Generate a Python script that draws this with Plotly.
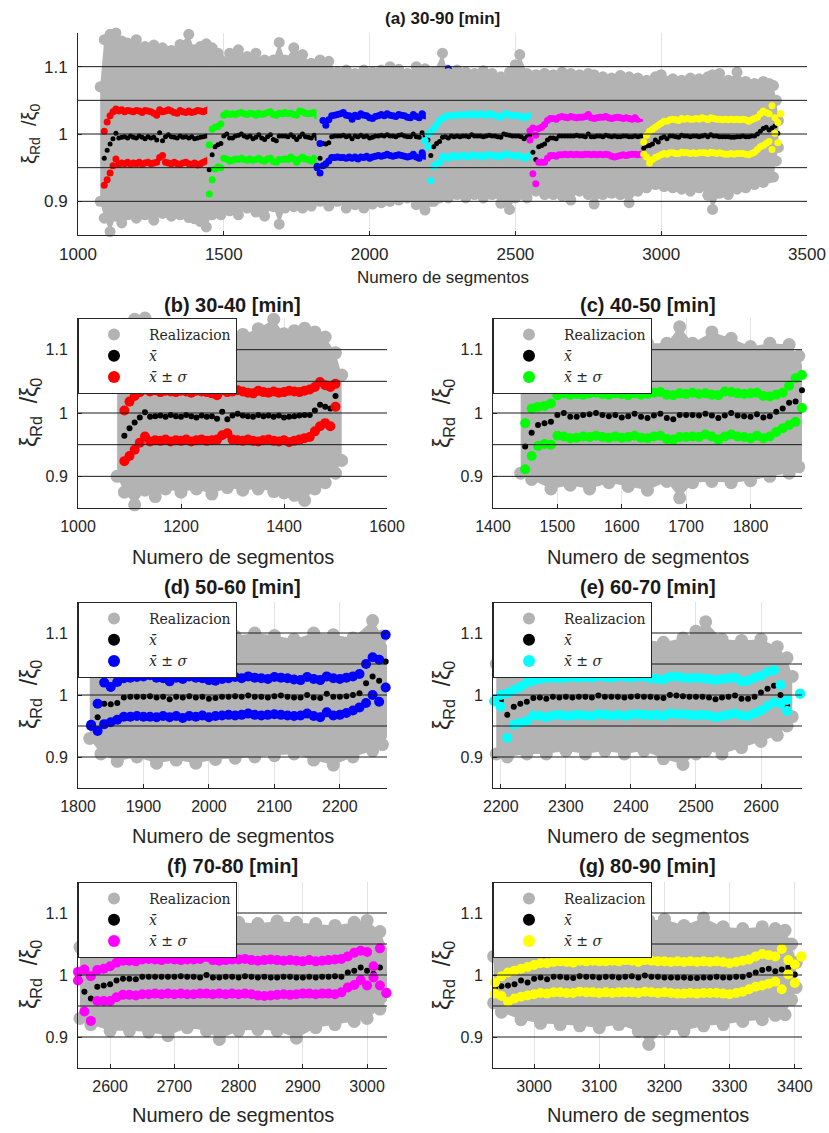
import plotly.graph_objects as go

# ---------------- data ----------------
# Period (b) 30-40 min
x_b = list(range(1090, 1501, 10))
mean_b = [0.964, 0.976, 0.985, 0.993, 1.001, 0.994, 0.995, 0.996, 0.994, 0.997, 0.995, 0.994, 0.997, 0.995,
          0.993, 0.996, 0.994, 0.995, 0.991, 1.002, 0.990, 0.996, 0.999, 0.996, 0.995, 0.994, 0.997, 0.995,
          0.996, 0.994, 0.996, 0.993, 0.994, 0.995, 0.996, 0.997, 0.997, 1.004, 1.013, 1.010, 1.007, 1.027]
up_b = [1.004, 1.018, 1.027, 1.033, 1.037, 1.034, 1.036, 1.033, 1.035, 1.034, 1.033, 1.035, 1.034, 1.032,
        1.035, 1.034, 1.033, 1.031, 1.028, 1.036, 1.033, 1.034, 1.036, 1.034, 1.032, 1.031, 1.035, 1.033,
        1.032, 1.034, 1.032, 1.033, 1.035, 1.034, 1.033, 1.035, 1.037, 1.041, 1.049, 1.044, 1.041, 1.046]
lo_b = [0.924, 0.932, 0.942, 0.953, 0.963, 0.955, 0.957, 0.956, 0.958, 0.955, 0.957, 0.956, 0.958, 0.955,
        0.957, 0.958, 0.956, 0.957, 0.958, 0.965, 0.968, 0.958, 0.957, 0.956, 0.958, 0.956, 0.955, 0.957,
        0.958, 0.956, 0.955, 0.957, 0.954, 0.956, 0.958, 0.960, 0.962, 0.971, 0.979, 0.984, 0.979, 1.010]
cx_b = [1076, 1090, 1110, 1130, 1150, 1170, 1200, 1230, 1260, 1290, 1320, 1350, 1380, 1400, 1420, 1440, 1460, 1480, 1500, 1512]
chi_b = [1.070, 1.140, 1.148, 1.150, 1.138, 1.135, 1.140, 1.130, 1.132, 1.128, 1.124, 1.133, 1.148, 1.125,
         1.130, 1.134, 1.128, 1.120, 1.095, 1.060]
clo_b = [0.900, 0.875, 0.855, 0.878, 0.868, 0.880, 0.875, 0.880, 0.872, 0.882, 0.878, 0.880, 0.876, 0.874,
         0.870, 0.862, 0.880, 0.890, 0.905, 0.925]

# Period (c) 40-50 min
x_c = list(range(1450, 1881, 10))
mean_c = [0.947, 0.969, 0.981, 0.984, 0.986, 0.997, 1.000, 0.994, 0.994, 0.997, 0.998, 1.000, 0.997, 0.995,
          0.997, 0.993, 0.995, 0.999, 0.994, 0.992, 0.996, 0.999, 0.992, 0.990, 0.997, 0.997, 0.997, 0.996,
          0.999, 0.996, 0.992, 0.996, 1.000, 0.996, 0.995, 0.994, 0.998, 0.993, 0.995, 1.002, 1.007, 1.016,
          1.018, 1.036]
up_c = [0.984, 1.007, 1.010, 1.011, 1.015, 1.028, 1.031, 1.029, 1.030, 1.029, 1.031, 1.032, 1.030, 1.029,
        1.031, 1.030, 1.028, 1.031, 1.029, 1.030, 1.032, 1.033, 1.029, 1.028, 1.031, 1.030, 1.032, 1.030,
        1.031, 1.029, 1.028, 1.034, 1.033, 1.031, 1.030, 1.031, 1.032, 1.027, 1.026, 1.029, 1.032, 1.043,
        1.055, 1.060]
lo_c = [0.911, 0.932, 0.948, 0.951, 0.950, 0.964, 0.963, 0.960, 0.961, 0.963, 0.962, 0.964, 0.962, 0.961,
        0.963, 0.961, 0.962, 0.964, 0.961, 0.960, 0.963, 0.964, 0.959, 0.958, 0.962, 0.962, 0.963, 0.962,
        0.966, 0.963, 0.958, 0.963, 0.966, 0.963, 0.962, 0.960, 0.964, 0.960, 0.963, 0.970, 0.976, 0.981,
        0.986, 1.008]
cx_c = [1443, 1460, 1490, 1520, 1550, 1580, 1610, 1640, 1670, 1690, 1710, 1740, 1770, 1800, 1830, 1860, 1875, 1886]
chi_c = [1.050, 1.090, 1.110, 1.120, 1.125, 1.115, 1.120, 1.110, 1.110, 1.136, 1.110, 1.128, 1.118, 1.105,
         1.110, 1.108, 1.090, 1.060]
clo_c = [0.905, 0.895, 0.880, 0.886, 0.880, 0.890, 0.884, 0.878, 0.892, 0.866, 0.890, 0.892, 0.890, 0.893,
         0.900, 0.905, 0.915, 0.935]

# Period (d) 50-60 min
x_d = list(range(1820, 2271, 10))
mean_d = [0.951, 0.964, 0.986, 0.985, 0.987, 0.996, 0.997, 0.997, 0.997, 0.998, 0.996, 0.997, 0.993, 0.997,
          0.996, 0.998, 0.996, 0.997, 0.994, 0.995, 0.997, 0.997, 0.998, 0.997, 0.999, 0.997, 0.997, 0.996,
          0.998, 0.999, 0.997, 0.996, 0.996, 1.000, 0.996, 0.995, 1.002, 0.997, 0.997, 0.998, 1.000, 1.003,
          1.019, 1.030, 1.023, 1.054]
up_d = [0.952, 0.986, 1.020, 1.013, 1.021, 1.027, 1.028, 1.029, 1.030, 1.032, 1.028, 1.027, 1.022, 1.028,
        1.026, 1.030, 1.028, 1.027, 1.024, 1.023, 1.026, 1.027, 1.029, 1.027, 1.030, 1.028, 1.027, 1.026,
        1.029, 1.028, 1.027, 1.025, 1.024, 1.029, 1.026, 1.024, 1.030, 1.027, 1.026, 1.028, 1.030, 1.034,
        1.050, 1.061, 1.057, 1.097]
lo_d = [0.950, 0.942, 0.953, 0.956, 0.960, 0.965, 0.965, 0.966, 0.965, 0.965, 0.964, 0.966, 0.964, 0.966,
        0.963, 0.966, 0.965, 0.967, 0.964, 0.966, 0.967, 0.968, 0.967, 0.968, 0.970, 0.968, 0.967, 0.968,
        0.969, 0.968, 0.967, 0.966, 0.967, 0.970, 0.966, 0.964, 0.972, 0.967, 0.968, 0.971, 0.975, 0.980,
        0.987, 1.000, 0.989, 1.012]
cx_d = [1818, 1835, 1860, 1890, 1920, 1950, 1980, 2010, 2040, 2070, 2100, 2130, 2160, 2190, 2220, 2250, 2265, 2274]
chi_d = [1.060, 1.090, 1.095, 1.092, 1.095, 1.090, 1.095, 1.092, 1.095, 1.100, 1.096, 1.090, 1.100, 1.097,
         1.092, 1.120, 1.095, 1.075]
clo_d = [0.930, 0.905, 0.893, 0.900, 0.890, 0.895, 0.890, 0.896, 0.898, 0.900, 0.902, 0.905, 0.895, 0.887,
         0.900, 0.910, 0.920, 0.935]

# Period (e) 60-70 min
x_e = list(range(2190, 2641, 10)) + [2660]
mean_e = [0.990, 0.991, 0.968, 0.981, 0.986, 0.989, 0.995, 0.996, 0.994, 0.997, 0.996, 0.997, 0.996, 0.997,
          0.997, 0.996, 0.999, 0.997, 0.997, 0.997, 0.996, 0.997, 0.998, 0.997, 0.997, 0.996, 0.995, 1.000,
          0.999, 0.998, 0.997, 0.997, 0.997, 0.996, 0.993, 0.996, 0.997, 0.999, 0.994, 0.994, 0.997, 1.004,
          1.010, 1.015, 1.000, 0.983, 1.002]
up_e = [0.990, 1.000, 1.003, 1.008, 1.013, 1.020, 1.023, 1.026, 1.027, 1.028, 1.027, 1.028, 1.029, 1.028,
        1.029, 1.028, 1.030, 1.029, 1.028, 1.030, 1.029, 1.028, 1.030, 1.029, 1.027, 1.026, 1.025, 1.029,
        1.030, 1.028, 1.027, 1.028, 1.027, 1.026, 1.024, 1.026, 1.027, 1.028, 1.022, 1.023, 1.028, 1.031,
        1.037, 1.040, 1.016, 0.992, 1.002]
lo_e = [0.990, 0.981, 0.931, 0.952, 0.955, 0.958, 0.967, 0.966, 0.964, 0.967, 0.968, 0.966, 0.967, 0.968,
        0.967, 0.966, 0.969, 0.968, 0.967, 0.968, 0.966, 0.968, 0.969, 0.968, 0.967, 0.968, 0.966, 0.970,
        0.969, 0.969, 0.968, 0.967, 0.968, 0.967, 0.964, 0.966, 0.968, 0.970, 0.967, 0.966, 0.970, 0.975,
        0.982, 0.988, 0.986, 0.974, 1.002]
cx_e = [2193, 2210, 2240, 2270, 2300, 2330, 2360, 2390, 2420, 2450, 2480, 2500, 2515, 2540, 2570, 2600, 2625, 2640, 2648]
chi_e = [1.050, 1.090, 1.092, 1.090, 1.095, 1.092, 1.090, 1.094, 1.090, 1.085, 1.092, 1.103, 1.118, 1.090,
         1.088, 1.090, 1.078, 1.060, 1.030]
clo_e = [0.905, 0.900, 0.905, 0.905, 0.910, 0.905, 0.910, 0.905, 0.910, 0.897, 0.888, 0.905, 0.910, 0.905,
         0.915, 0.925, 0.935, 0.950, 0.965]

# Period (f) 70-80 min
x_f = list(range(2550, 3031, 10))
mean_f = [0.998, 0.973, 0.962, 0.981, 0.983, 0.985, 0.991, 0.994, 0.994, 0.993, 0.997, 0.997, 0.997, 0.997,
          0.997, 0.997, 0.998, 0.997, 0.997, 0.996, 1.000, 0.996, 0.996, 0.997, 0.997, 0.996, 0.998, 0.997,
          0.996, 0.997, 0.996, 0.996, 0.997, 0.997, 0.996, 0.996, 0.997, 0.996, 0.997, 0.997, 0.998, 0.997,
          1.004, 1.007, 1.012, 1.007, 1.002, 1.012, 0.971]
up_f = [1.005, 1.009, 0.998, 1.008, 1.010, 1.014, 1.020, 1.023, 1.023, 1.022, 1.025, 1.026, 1.025, 1.024,
        1.026, 1.025, 1.024, 1.025, 1.025, 1.026, 1.029, 1.024, 1.023, 1.024, 1.025, 1.025, 1.026, 1.024,
        1.023, 1.024, 1.025, 1.024, 1.023, 1.024, 1.023, 1.022, 1.024, 1.022, 1.023, 1.024, 1.025, 1.026,
        1.030, 1.036, 1.039, 1.037, 1.014, 1.043, 0.971]
lo_f = [0.991, 0.941, 0.926, 0.958, 0.958, 0.958, 0.964, 0.968, 0.968, 0.967, 0.969, 0.969, 0.970, 0.969,
        0.970, 0.969, 0.970, 0.969, 0.969, 0.970, 0.970, 0.969, 0.970, 0.969, 0.970, 0.969, 0.970, 0.969,
        0.967, 0.966, 0.967, 0.968, 0.969, 0.968, 0.969, 0.970, 0.970, 0.969, 0.970, 0.970, 0.969, 0.972,
        0.980, 0.984, 0.992, 0.983, 0.996, 0.983, 0.971]
cx_f = [2553, 2570, 2600, 2630, 2660, 2690, 2720, 2750, 2770, 2800, 2830, 2860, 2890, 2920, 2950, 2980, 3000, 3020, 3032]
chi_f = [1.045, 1.080, 1.090, 1.088, 1.092, 1.090, 1.088, 1.090, 1.088, 1.085, 1.083, 1.087, 1.085, 1.083,
         1.080, 1.085, 1.088, 1.070, 1.040]
clo_f = [0.930, 0.920, 0.910, 0.910, 0.908, 0.902, 0.915, 0.910, 0.896, 0.910, 0.912, 0.910, 0.898, 0.915,
         0.920, 0.925, 0.930, 0.945, 0.960]

# Period (g) 80-90 min
x_g = list(range(2940, 3411, 10))
mean_g = [0.979, 0.982, 0.983, 0.985, 0.991, 0.988, 0.994, 0.996, 0.993, 0.997, 0.997, 0.996, 0.995, 0.998,
          0.997, 0.997, 0.996, 0.997, 0.997, 0.996, 0.997, 0.998, 0.996, 0.999, 0.997, 0.997, 0.996, 0.996,
          0.996, 0.996, 0.995, 0.995, 0.996, 0.996, 0.997, 0.996, 0.996, 0.997, 0.997, 1.000, 1.004, 1.008,
          1.010, 1.006, 1.009, 1.012, 1.001, 1.030]
up_g = [0.988, 0.998, 1.004, 1.007, 1.010, 1.013, 1.016, 1.019, 1.019, 1.021, 1.022, 1.021, 1.020, 1.023,
        1.022, 1.023, 1.022, 1.022, 1.023, 1.022, 1.024, 1.023, 1.021, 1.024, 1.023, 1.022, 1.022, 1.021,
        1.022, 1.021, 1.022, 1.021, 1.022, 1.021, 1.022, 1.021, 1.019, 1.021, 1.023, 1.025, 1.030, 1.034,
        1.032, 1.030, 1.042, 1.024, 1.017, 1.030]
lo_g = [0.970, 0.966, 0.957, 0.962, 0.965, 0.967, 0.969, 0.971, 0.970, 0.972, 0.972, 0.971, 0.971, 0.973,
        0.972, 0.972, 0.971, 0.972, 0.971, 0.972, 0.972, 0.972, 0.971, 0.973, 0.972, 0.971, 0.972, 0.971,
        0.970, 0.970, 0.971, 0.970, 0.971, 0.971, 0.971, 0.970, 0.969, 0.971, 0.973, 0.977, 0.981, 0.983,
        0.986, 0.989, 0.977, 1.001, 0.987, 1.030]
cx_g = [2938, 2950, 2980, 3010, 3040, 3070, 3100, 3130, 3160, 3176, 3200, 3230, 3260, 3290, 3320, 3350, 3370, 3385, 3395, 3402]
chi_g = [1.030, 1.060, 1.075, 1.080, 1.082, 1.080, 1.083, 1.082, 1.085, 1.088, 1.090, 1.080, 1.092, 1.078,
         1.075, 1.078, 1.075, 1.072, 1.050, 1.020]
clo_g = [0.955, 0.940, 0.928, 0.922, 0.920, 0.918, 0.915, 0.920, 0.909, 0.888, 0.912, 0.910, 0.918, 0.920,
         0.925, 0.928, 0.935, 0.936, 0.960, 0.980]

periods = [
    dict(x=x_b, m=mean_b, u=up_b, l=lo_b, cx=cx_b, chi=chi_b, clo=clo_b, color="#ff0000"),
    dict(x=x_c, m=mean_c, u=up_c, l=lo_c, cx=cx_c, chi=chi_c, clo=clo_c, color="#00ff00"),
    dict(x=x_d, m=mean_d, u=up_d, l=lo_d, cx=cx_d, chi=chi_d, clo=clo_d, color="#0000ff"),
    dict(x=x_e, m=mean_e, u=up_e, l=lo_e, cx=cx_e, chi=chi_e, clo=clo_e, color="#00ffff"),
    dict(x=x_f, m=mean_f, u=up_f, l=lo_f, cx=cx_f, chi=chi_f, clo=clo_f, color="#ff00ff"),
    dict(x=x_g, m=mean_g, u=up_g, l=lo_g, cx=cx_g, chi=chi_g, clo=clo_g, color="#ffff00"),
]

titles = ["(a) 30-90 [min]", "(b) 30-40 [min]", "(c) 40-50 [min]", "(d) 50-60 [min]",
          "(e) 60-70 [min]", "(f) 70-80 [min]", "(g) 80-90 [min]"]
x_ranges = [[1000, 3500], [1000, 1600], [1400, 1880], [1800, 2272], [2188, 2663], [2550, 3031], [2937, 3411]]
x_dticks = [500, 200, 100, 100, 100, 100, 100]
y_ticks = [0.9, 1.0, 1.1]
y_ticktext = ["0.9", "1", "1.1"]
grid_levels = [0.9, 0.95, 1.0, 1.05, 1.1]

# ---------------- layout geometry (pixels) ----------------
W, H = 829, 1133
boxes = [  # left, right, top, bottom in px
    (78, 807, 33, 235),
    (78, 387, 318, 508), (493, 802, 318, 508),
    (78, 387, 602, 788), (493, 802, 602, 788),
    (78, 387, 882, 1068), (493, 802, 882, 1068),
]
title_y = [18, 305, 305, 587, 587, 866, 866]
xlabel_y = [278, 557, 557, 836, 836, 1115, 1115]

GRAY = "rgb(179,179,179)"
AX = "#262626"

fig = go.Figure()


def add_period(p, k, big, legend_name):
    ax_suffix = "" if k == 0 else str(k + 1)
    xa, ya = "x" + ax_suffix, "y" + ax_suffix
    gs, cs, bs = (11, 7, 5) if not big else (13, 10, 6)
    show = legend_name is not None
    poly_x = p["cx"] + p["cx"][::-1]
    poly_y = p["chi"] + p["clo"][::-1]
    fig.add_trace(go.Scatter(x=poly_x, y=poly_y, xaxis=xa, yaxis=ya, mode="lines", fill="toself",
                             fillcolor=GRAY, line=dict(width=0, color=GRAY), showlegend=False,
                             hoverinfo="skip"))
    kw = dict(legend=legend_name) if show else {}
    fig.add_trace(go.Scatter(x=p["cx"] + p["cx"], y=p["chi"] + p["clo"], xaxis=xa, yaxis=ya,
                             mode="markers", marker=dict(size=gs, color=GRAY, line=dict(width=0)),
                             name="Realizacion", showlegend=show, cliponaxis=False, **kw))
    fig.add_trace(go.Scatter(x=p["x"], y=p["m"], xaxis=xa, yaxis=ya, mode="markers",
                             marker=dict(size=bs, color="black", line=dict(width=0)),
                             name="<i>x\u0304</i>", showlegend=show, cliponaxis=False, **kw))
    fig.add_trace(go.Scatter(x=p["x"], y=p["u"], xaxis=xa, yaxis=ya, mode="markers",
                             marker=dict(size=cs, color=p["color"], line=dict(width=0)),
                             name="<i>x\u0304</i> \u00b1 <i>\u03c3</i>", showlegend=show,
                             cliponaxis=False, **kw))
    fig.add_trace(go.Scatter(x=p["x"], y=p["l"], xaxis=xa, yaxis=ya, mode="markers",
                             marker=dict(size=cs, color=p["color"], line=dict(width=0)),
                             showlegend=False, cliponaxis=False))


# panel (a): all periods
for p in periods:
    add_period(p, 0, False, None)
# panels (b)-(g)
for i, p in enumerate(periods):
    lname = "legend" if i == 0 else "legend" + str(i + 1)
    add_period(p, i + 1, True, lname)

layout = dict(width=W, height=H, margin=dict(l=0, r=0, t=0, b=0, pad=0, autoexpand=False),
              paper_bgcolor="white", plot_bgcolor="white", showlegend=True)
annotations = []
shapes = []
for k, (l, r, t, b) in enumerate(boxes):
    sfx = "" if k == 0 else str(k + 1)
    dom_x = [l / W, r / W]
    dom_y = [1 - b / H, 1 - t / H]
    tick_font = dict(family="Liberation Sans, Arial", size=17 if k == 0 else 16, color=AX)
    layout["xaxis" + sfx] = dict(domain=dom_x, range=x_ranges[k], dtick=x_dticks[k], tick0=0,
                                 anchor="y" + sfx, showline=True, linecolor=AX, linewidth=1,
                                 ticks="inside", ticklen=4, tickcolor=AX, showgrid=True,
                                 gridcolor="#e3e3e3", zeroline=False, tickfont=tick_font,
                                 ticklabelstandoff=4, automargin=False)
    layout["yaxis" + sfx] = dict(domain=dom_y, range=[0.85, 1.15], tickvals=y_ticks,
                                 ticktext=y_ticktext, anchor="x" + sfx, showline=True, linecolor=AX,
                                 linewidth=1, ticks="inside", ticklen=4, tickcolor=AX,
                                 showgrid=False, zeroline=False, tickfont=tick_font,
                                 ticklabelstandoff=6, automargin=False)
    for g in grid_levels:
        shapes.append(dict(type="line", xref="x" + sfx + " domain", yref="y" + sfx, x0=0, x1=1,
                           y0=g, y1=g, line=dict(color="#1a1a1a", width=1), layer="above"))
    cx_mid = (l + r) / 2 / W
    annotations.append(dict(text="<b>" + titles[k] + "</b>", x=cx_mid, y=1 - title_y[k] / H,
                            xref="paper", yref="paper", showarrow=False, xanchor="center",
                            yanchor="middle",
                            font=dict(family="Liberation Sans, Arial", size=17 if k == 0 else 20,
                                      color="#1a1a1a")))
    annotations.append(dict(text="Numero de segmentos", x=cx_mid, y=1 - xlabel_y[k] / H,
                            xref="paper", yref="paper", showarrow=False, xanchor="center",
                            yanchor="middle",
                            font=dict(family="Liberation Sans, Arial", size=17 if k == 0 else 20,
                                      color=AX)))
    ylx = 30 if l < 200 else 443
    annotations.append(dict(text="\u03be<sub>Rd</sub>  /\u03be<sub>0</sub>", x=ylx / W,
                            y=1 - (t + b) / 2 / H, xref="paper", yref="paper", showarrow=False,
                            textangle=-90, xanchor="center", yanchor="middle",
                            font=dict(family="Liberation Sans, Arial", size=20 if k == 0 else 23,
                                      color=AX)))
    if k > 0:
        lname = "legend" if k == 1 else "legend" + str(k)
        layout[lname] = dict(x=l / W, y=1 - t / H, xref="paper", yref="paper", xanchor="left",
                             yanchor="top", bgcolor="white", bordercolor=AX, borderwidth=1,
                             font=dict(family="DejaVu Serif, Liberation Serif", size=14,
                                       color=AX),
                             itemsizing="constant", itemwidth=60, tracegroupgap=0)

layout["annotations"] = annotations
layout["shapes"] = shapes
fig.update_layout(**layout)
fig.write_html("out.html", config={"displayModeBar": False},
               post_script="document.body.style.margin='0px';document.body.style.overflow='hidden';")
